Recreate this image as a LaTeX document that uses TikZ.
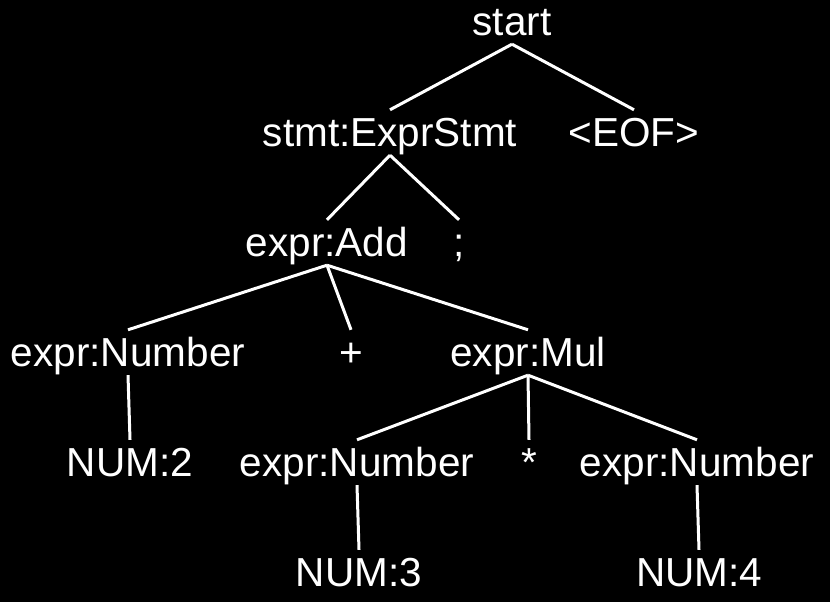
\documentclass[tikz,border=0pt]{standalone}
\usepackage{fontspec}
\setmainfont{Liberation Sans}
\begin{document}
\begin{tikzpicture}[x=1pt,y=1pt,
  tn/.style={anchor=base, text=white, font=\fontsize{40.5}{48}\selectfont,
    text height=29pt, text depth=0pt, inner xsep=0pt, inner ysep=8pt},
  br/.style={draw=white, line width=3pt}]
\fill[black] (0,0) rectangle (830,602);
\useasboundingbox (0,0) rectangle (830,602);
\node[tn] (start) at (512,566) {start};
\node[tn] (stmt) at (390,455) {stmt:ExprStmt};
\node[tn] (eof) at (634,455) {<EOF>};
\node[tn] (add) at (327,345) {expr:Add};
\node[tn] (semi) at (459,345) {;};
\node[tn] (num1) at (128,235) {expr:Number};
\node[tn] (plus) at (351,235) {+};
\node[tn] (mul) at (528,235) {expr:Mul};
\node[tn] (n2) at (130,125) {NUM:2};
\node[tn] (num2) at (357,125) {expr:Number};
\node[tn] (star) at (529,125) {*};
\node[tn] (num3) at (697,125) {expr:Number};
\node[tn] (n3) at (359,15) {NUM:3};
\node[tn] (n4) at (699,15) {NUM:4};
\draw[br] (start.south) -- (stmt.north);
\draw[br] (start.south) -- (eof.north);
\draw[br] (stmt.south) -- (add.north);
\draw[br] (stmt.south) -- (semi.north);
\draw[br] (add.south) -- (num1.north);
\draw[br] (add.south) -- (plus.north);
\draw[br] (add.south) -- (mul.north);
\draw[br] (num1.south) -- (n2.north);
\draw[br] (mul.south) -- (num2.north);
\draw[br] (mul.south) -- (star.north);
\draw[br] (mul.south) -- (num3.north);
\draw[br] (num2.south) -- (n3.north);
\draw[br] (num3.south) -- (n4.north);
\end{tikzpicture}
\end{document}
